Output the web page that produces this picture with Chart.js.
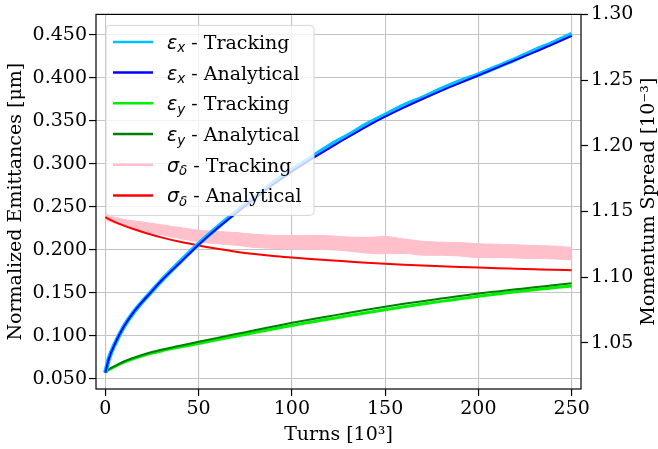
<!DOCTYPE html>
<html>
<head>
<meta charset="utf-8">
<script src="https://cdn.jsdelivr.net/npm/chart.js@4.4.1/dist/chart.umd.min.js"></script>
<style>
  html, body { margin: 0; padding: 0; background: #fff; }
  #wrap { width: 658px; height: 449px; }
</style>
</head>
<body>
<div id="wrap"><canvas id="emitChart" width="658" height="449"></canvas></div>
<script>
// turns, in units of 10^3
const turns = [0, 1, 2, 5, 10, 15, 20, 25, 30, 40, 50, 60, 70, 80, 90, 100, 110, 120, 130, 140, 150, 160, 170, 180, 190, 200, 210, 220, 230, 240, 250];

// normalized emittances [um]
const epsXTracking   = [0.057, 0.066, 0.074, 0.090, 0.111, 0.127, 0.140, 0.152, 0.164, 0.186, 0.207, 0.226, 0.244, 0.261, 0.278, 0.293, 0.307, 0.321, 0.333, 0.346, 0.357, 0.368, 0.377, 0.387, 0.396, 0.404, 0.413, 0.422, 0.432, 0.441, 0.451];
const epsXAnalytical = [0.057, 0.066, 0.074, 0.090, 0.111, 0.127, 0.140, 0.152, 0.164, 0.185, 0.206, 0.225, 0.2425, 0.2595, 0.276, 0.291, 0.305, 0.318, 0.331, 0.3435, 0.355, 0.3655, 0.3755, 0.385, 0.394, 0.403, 0.412, 0.421, 0.430, 0.4395, 0.449];
const epsYTracking   = [0.0575, 0.0593, 0.0607, 0.0641, 0.0693, 0.0732, 0.0766, 0.0797, 0.0823, 0.0868, 0.0910, 0.0953, 0.0995, 0.1037, 0.1078, 0.1120, 0.1158, 0.1195, 0.1232, 0.1268, 0.1303, 0.1337, 0.1369, 0.1400, 0.1430, 0.1460, 0.1487, 0.1512, 0.1536, 0.1558, 0.1580];
const epsYAnalytical = [0.0575, 0.0595, 0.0610, 0.0645, 0.0700, 0.0742, 0.0778, 0.0810, 0.0837, 0.0883, 0.0930, 0.0975, 0.1019, 0.1063, 0.1107, 0.1150, 0.1189, 0.1227, 0.1265, 0.1302, 0.1338, 0.1371, 0.1402, 0.1432, 0.1462, 0.1491, 0.1516, 0.1540, 0.1564, 0.1587, 0.1610];

// momentum spread [10^-3]
const sigmaAnalytical = [1.1455, 1.1448, 1.1441, 1.1420, 1.1391, 1.1366, 1.1343, 1.1322, 1.1302, 1.1268, 1.1240, 1.1215, 1.1193, 1.1175, 1.1160, 1.1148, 1.1137, 1.1127, 1.1118, 1.1109, 1.1101, 1.1094, 1.1088, 1.1082, 1.1077, 1.1072, 1.1067, 1.1063, 1.1059, 1.1055, 1.1052];

// tracking result is a noisy band: upper and lower edge
const sigmaTurns   = [0, 10, 20, 30, 40, 50, 60, 70, 80, 90, 100, 110, 120, 130, 140, 150, 160, 170, 180, 190, 200, 210, 220, 230, 240, 250];
const sigmaTrackHi = [1.1474, 1.1438, 1.1419, 1.1398, 1.1377, 1.1357, 1.1347, 1.1338, 1.1325, 1.1318, 1.1316, 1.1318, 1.1314, 1.1305, 1.1302, 1.1308, 1.1290, 1.1272, 1.1265, 1.1262, 1.1253, 1.1250, 1.1245, 1.1240, 1.1236, 1.1225];
const sigmaTrackLo = [1.1436, 1.1386, 1.1351, 1.1322, 1.1293, 1.1267, 1.1253, 1.1242, 1.1225, 1.1218, 1.1214, 1.1212, 1.1208, 1.1198, 1.1182, 1.1177, 1.1180, 1.1166, 1.1165, 1.1160, 1.1147, 1.1148, 1.1145, 1.1140, 1.1138, 1.1130];

const xTicks = [0, 50, 100, 150, 200, 250];
const yTicks = [0.05, 0.10, 0.15, 0.20, 0.25, 0.30, 0.35, 0.40, 0.45];
const y2Ticks = [1.05, 1.10, 1.15, 1.20, 1.25, 1.30];

const SERIF = '"DejaVu Serif", "Liberation Serif", serif';
const pts = (xs, ys) => xs.map((x, i) => ({ x: x, y: ys[i] }));

// legend that can draw the subscripts
const mathLegend = {
  id: 'mathLegend',
  afterDatasetsDraw(chart) {
    const ctx = chart.ctx;
    const a = chart.chartArea;
    const x0 = a.left + 10, y0 = a.top + 11, w = 208, h = 190, r = 4;
    ctx.save();
    ctx.beginPath();
    ctx.moveTo(x0 + r, y0);
    ctx.arcTo(x0 + w, y0, x0 + w, y0 + h, r);
    ctx.arcTo(x0 + w, y0 + h, x0, y0 + h, r);
    ctx.arcTo(x0, y0 + h, x0, y0, r);
    ctx.arcTo(x0, y0, x0 + w, y0, r);
    ctx.closePath();
    ctx.fillStyle = 'rgba(255,255,255,0.8)';
    ctx.fill();
    ctx.strokeStyle = '#d6d6d6';
    ctx.lineWidth = 1;
    ctx.stroke();

    const items = chart.data.datasets.filter(d => d.legendSym);
    items.forEach((d, i) => {
      const cy = y0 + 16.5 + i * 30.7;
      ctx.strokeStyle = d.borderColor;
      ctx.lineWidth = 2.5;
      ctx.beginPath();
      ctx.moveTo(x0 + 7, cy);
      ctx.lineTo(x0 + 47, cy);
      ctx.stroke();

      const base = cy + 7;
      let tx = x0 + 61;
      ctx.fillStyle = '#000';
      ctx.textBaseline = 'alphabetic';
      ctx.textAlign = 'left';
      ctx.font = 'italic 19px "DejaVu Sans"';
      ctx.fillText(d.legendSym, tx, base);
      tx += ctx.measureText(d.legendSym).width;
      ctx.font = 'italic 13.5px "DejaVu Sans"';
      ctx.fillText(d.legendSub, tx, base + 3.5);
      tx += ctx.measureText(d.legendSub).width;
      ctx.font = '19px ' + SERIF;
      ctx.fillText(' - ' + d.legendText, tx, base);
    });
    ctx.restore();
  }
};

// top spine and the right-hand axis title (reads bottom to top)
const frameAndTitle = {
  id: 'frameAndTitle',
  afterDraw(chart) {
    const ctx = chart.ctx;
    const a = chart.chartArea;
    ctx.save();
    ctx.strokeStyle = '#000';
    ctx.lineWidth = 1.2;
    ctx.strokeRect(a.left, a.top, a.right - a.left, a.bottom - a.top);
    ctx.translate(649, (a.top + a.bottom) / 2);
    ctx.rotate(-Math.PI / 2);
    ctx.font = '19px ' + SERIF;
    ctx.fillStyle = '#000';
    ctx.textAlign = 'center';
    ctx.textBaseline = 'middle';
    ctx.fillText('Momentum Spread [10⁻³]', 0, 0);
    ctx.restore();
  }
};

Chart.defaults.font.family = SERIF;
Chart.defaults.font.size = 19;
Chart.defaults.color = '#000';

const ctx = document.getElementById('emitChart');
new Chart(ctx.getContext('2d'), {
  type: 'line',
  data: {
    datasets: [
      { label: 'εx - Tracking', data: pts(turns, epsXTracking), yAxisID: 'y', borderColor: '#00bfff', borderWidth: 4.5, order: 1,
        legendSym: 'ε', legendSub: 'x', legendText: 'Tracking' },
      { label: 'εx - Analytical', data: pts(turns, epsXAnalytical), yAxisID: 'y', borderColor: '#0000ff', borderWidth: 2, order: 0,
        legendSym: 'ε', legendSub: 'x', legendText: 'Analytical' },
      { label: 'εy - Tracking', data: pts(turns, epsYTracking), yAxisID: 'y', borderColor: '#00f000', borderWidth: 3, order: 3,
        legendSym: 'ε', legendSub: 'y', legendText: 'Tracking' },
      { label: 'εy - Analytical', data: pts(turns, epsYAnalytical), yAxisID: 'y', borderColor: '#008000', borderWidth: 2, order: 2,
        legendSym: 'ε', legendSub: 'y', legendText: 'Analytical' },
      { label: 'σδ - Tracking', data: pts(sigmaTurns, sigmaTrackHi), yAxisID: 'y2', borderColor: '#ffc0cb', borderWidth: 1, fill: false, order: 5,
        legendSym: 'σ', legendSub: 'δ', legendText: 'Tracking' },
      { label: 'σδ - Tracking (low)', data: pts(sigmaTurns, sigmaTrackLo), yAxisID: 'y2', borderColor: '#ffc0cb', borderWidth: 1,
        backgroundColor: '#ffc0cb', fill: '-1', order: 5 },
      { label: 'σδ - Analytical', data: pts(turns, sigmaAnalytical), yAxisID: 'y2', borderColor: '#ff0000', borderWidth: 2, order: 4,
        legendSym: 'σ', legendSub: 'δ', legendText: 'Analytical' }
    ]
  },
  options: {
    responsive: false,
    animation: false,
    events: [],
    layout: { padding: { top: 12, left: 0, right: 0, bottom: 0 } },
    elements: {
      point: { radius: 0 },
      line: { cubicInterpolationMode: 'monotone', fill: false }
    },
    plugins: { legend: { display: false }, tooltip: { enabled: false } },
    scales: {
      x: {
        type: 'linear', min: -5, max: 255,
        afterBuildTicks: s => { s.ticks = xTicks.map(v => ({ value: v })); },
        afterFit: s => { s.height = 60; },
        ticks: { autoSkip: false, maxRotation: 0, padding: 2 },
        grid: { color: '#c4c4c4', lineWidth: 1.1, tickLength: 7, tickColor: '#000', tickWidth: 1.2 },
        border: { display: false },
        title: { display: true, text: 'Turns [10³]', padding: { top: 0, bottom: 3 } }
      },
      y: {
        position: 'left', min: 0.038, max: 0.474,
        afterBuildTicks: s => { s.ticks = yTicks.map(v => ({ value: v })); },
        afterFit: s => { s.width = 96; },
        ticks: { autoSkip: false, padding: 2, callback: v => v.toFixed(3) },
        grid: { color: '#c4c4c4', lineWidth: 1.1, tickLength: 7, tickColor: '#000', tickWidth: 1.2 },
        border: { display: false },
        title: { display: true, text: 'Normalized Emittances [μm]', padding: { top: 5, bottom: 0 } }
      },
      y2: {
        position: 'right', min: 1.0147, max: 1.30,
        afterBuildTicks: s => { s.ticks = y2Ticks.map(v => ({ value: v })); },
        afterFit: s => { s.width = 77; },
        ticks: { autoSkip: false, padding: 3, callback: v => v.toFixed(2) },
        grid: { drawOnChartArea: false, tickLength: 7, tickColor: '#000', tickWidth: 1.2 },
        border: { display: false }
      }
    }
  },
  plugins: [mathLegend, frameAndTitle]
});
</script>
</body>
</html>
